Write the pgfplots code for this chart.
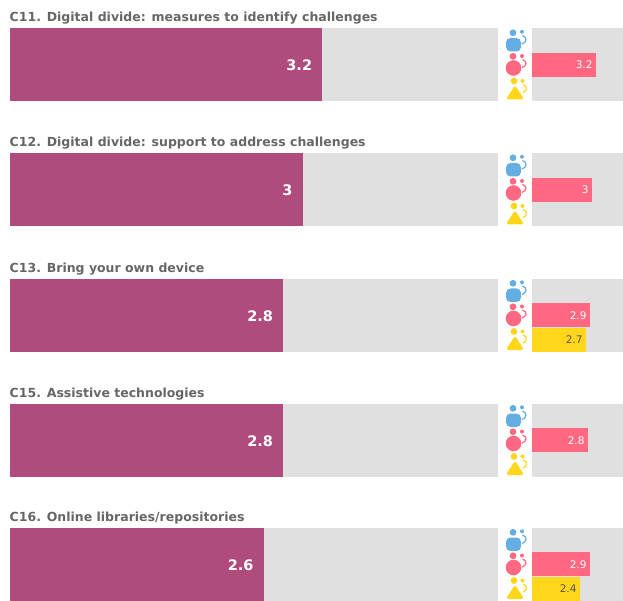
\documentclass[border=0pt]{standalone}
\usepackage{fontspec}
\setmainfont{DejaVu Sans}
\usepackage{pgfplots}
\pgfplotsset{compat=1.18}

\definecolor{plum}{HTML}{B04B7E}
\definecolor{panel}{HTML}{E0E0E0}
\definecolor{pinkbar}{HTML}{FF6880}
\definecolor{yellowbar}{HTML}{FFD61A}
\definecolor{blueicon}{HTML}{64AEE3}
\definecolor{titlegrey}{HTML}{666666}
\definecolor{darktext}{HTML}{555555}

\pgfplotsset{
    panelaxis/.style={
        scale only axis,
        anchor=north west,
        xmin=0,
        axis line style={draw=none},
        ticks=none,
        clip=false,
        axis background/.style={fill=panel},
    },
    smallbar/.style={
        xbar, bar shift=0pt, bar width=24.4pt, draw=none, fill=#1,
        point meta=explicit symbolic,
        nodes near coords,
        nodes near coords style={anchor=east, xshift=0pt, font=\fontsize{10.5}{11}\selectfont},
    },
}

% one block: title, big bar, icons, small bars
% #1 top in px, #2 title, #3 overall value, #4 small bar plots
\newcommand{\block}[4]{
    \node[anchor=base west, inner sep=0pt, text=titlegrey, font=\bfseries\fontsize{12.5}{14}\selectfont]
        at (9.5pt,-#1pt+6pt) {#2};
    \begin{axis}[panelaxis, at={(10pt,-#1pt)}, width=488pt, height=73.5pt,
        xmax=5, ymin=-0.5, ymax=0.5]
        \addplot[xbar, bar shift=0pt, bar width=73.5pt, draw=none, fill=plum,
            point meta=explicit symbolic, nodes near coords,
            nodes near coords style={anchor=east, xshift=-6.7pt, yshift=-0.5pt, text=white,
                font=\bfseries\fontsize{14.5}{15}\selectfont}]
            coordinates {(#3,0) [#3]};
    \end{axis}
    \begin{axis}[panelaxis, at={(532pt,-#1pt)}, width=91pt, height=73.5pt,
        xmax=4.55, ymin=-0.5, ymax=2.5, y dir=reverse]
        #4
    \end{axis}
    \begin{scope}[shift={(0pt,-#1pt)}, x=1pt, y=-1pt]
        % teachers
        \fill[blueicon] (513,4.8) circle (3.4);
        \fill[blueicon, rounded corners=4.5pt] (506,10) rectangle (521,23.5);
        \fill[blueicon] (522,3.8) circle (2);
        \draw[blueicon, line width=1.2pt] (522.5,7.5) .. controls (527.5,9) and (527,14.5) .. (522,16);
        % students
        \fill[pinkbar] (513,28.3) circle (3.4);
        \fill[pinkbar] (513.5,40) circle (7.8);
        \fill[pinkbar] (522,28) circle (2);
        \draw[pinkbar, line width=1.2pt] (522.5,31.5) .. controls (527.5,33) and (527,38) .. (522,39.5);
        % school leaders
        \fill[yellowbar] (514,53) circle (3.4);
        \filldraw[yellowbar, line width=3pt, line join=round] (515,60) -- (521.5,70) -- (508.5,70) -- cycle;
        \fill[yellowbar] (522.5,53) circle (2);
        \draw[yellowbar, line width=1.2pt] (523,56.5) .. controls (528,58) and (527.5,63) .. (523,64.5);
    \end{scope}
}

\begin{document}
\begin{tikzpicture}
    \useasboundingbox (0pt,0pt) rectangle (623pt,-601pt);
    \block{28}{C11. Digital divide: measures to identify challenges}{3.2}{
        \addplot[smallbar=pinkbar, nodes near coords style={text=white}] coordinates {(3.2,1) [3.2]};
    }
    \block{153}{C12. Digital divide: support to address challenges}{3}{
        \addplot[smallbar=pinkbar, nodes near coords style={text=white}] coordinates {(3,1) [3]};
    }
    \block{278.5}{C13. Bring your own device}{2.8}{
        \addplot[smallbar=pinkbar, nodes near coords style={text=white}] coordinates {(2.9,1) [2.9]};
        \addplot[smallbar=yellowbar, nodes near coords style={text=darktext}] coordinates {(2.7,2) [2.7]};
    }
    \block{403.5}{C15. Assistive technologies}{2.8}{
        \addplot[smallbar=pinkbar, nodes near coords style={text=white}] coordinates {(2.8,1) [2.8]};
    }
    \block{527.5}{C16. Online libraries/repositories}{2.6}{
        \addplot[smallbar=pinkbar, nodes near coords style={text=white}] coordinates {(2.9,1) [2.9]};
        \addplot[smallbar=yellowbar, nodes near coords style={text=darktext}] coordinates {(2.4,2) [2.4]};
    }
\end{tikzpicture}
\end{document}
